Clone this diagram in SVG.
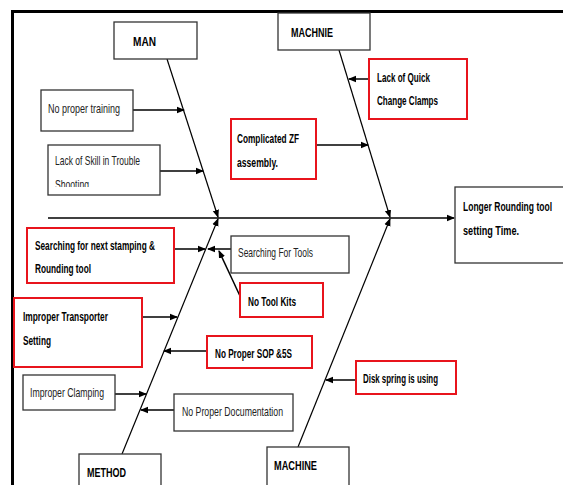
<svg xmlns="http://www.w3.org/2000/svg" width="563" height="485" viewBox="0 0 563 485">
<defs>
<style>
.bx{fill:#fff;stroke:#333;stroke-width:1.3}
.rb{fill:#fff;stroke:#e8141c;stroke-width:2}
.t{font-family:"Liberation Sans",Arial,sans-serif;font-size:13.5px;fill:#222}
.b{font-weight:bold;fill:#000}
.ln{stroke:#000;stroke-width:1.2;fill:none}
.ar{stroke:#000;stroke-width:1.5;fill:none;marker-end:url(#ah)}
</style>
<marker id="ah" markerUnits="userSpaceOnUse" markerWidth="8" markerHeight="8" viewBox="0 0 8 8" refX="7" refY="4" orient="auto">
<path d="M0,0.8 L8,4 L0,7.2 z" fill="#000"/>
</marker>
<clipPath id="skill"><rect x="48" y="145" width="112" height="42"/></clipPath>
</defs>
<rect x="0" y="0" width="563" height="485" fill="#fff"/>
<path d="M12.5,490 L12.5,11.5 L570,11.5" fill="none" stroke="#000" stroke-width="3"/>

<g id="connectors">
<line class="ar" x1="48" y1="218" x2="454" y2="218" style="stroke-width:1.6"/>
<line class="ln" x1="167" y1="59" x2="218" y2="217" style="marker-end:url(#ah)"/>
<line class="ln" x1="339" y1="50" x2="390" y2="217" style="marker-end:url(#ah)"/>
<line class="ln" x1="122" y1="454" x2="218" y2="219" style="marker-end:url(#ah)"/>
<line class="ln" x1="298" y1="447" x2="390" y2="219" style="marker-end:url(#ah)"/>
<line class="ar" x1="133" y1="110" x2="184" y2="110"/>
<line class="ar" x1="160" y1="171" x2="203" y2="171"/>
<line class="ar" x1="369" y1="79" x2="349" y2="79"/>
<line class="ar" x1="316" y1="145" x2="368" y2="145"/>
<line class="ar" x1="174" y1="249" x2="205" y2="249"/>
<line class="ar" x1="231" y1="249" x2="208" y2="249"/>
<line class="ar" x1="240" y1="296" x2="219" y2="251"/>
<line class="ar" x1="142" y1="317" x2="177" y2="317"/>
<line class="ar" x1="207" y1="351" x2="164" y2="351"/>
<line class="ar" x1="115" y1="394" x2="146" y2="394"/>
<line class="ar" x1="174" y1="410" x2="141" y2="410"/>
<line class="ar" x1="356" y1="380" x2="326" y2="380"/>
</g>

<g id="man"><rect class="bx" x="114" y="22" width="83" height="37"/><text class="t b" x="133" y="46" textLength="23" lengthAdjust="spacingAndGlyphs">MAN</text></g>
<g id="machnie"><rect class="bx" x="278" y="13" width="92" height="37"/><text class="t b" x="291" y="37" textLength="42" lengthAdjust="spacingAndGlyphs">MACHNIE</text></g>
<g id="quick-clamps"><rect class="rb" x="369" y="59" width="98" height="60"/><text class="t b" x="377" y="82" textLength="53" lengthAdjust="spacingAndGlyphs">Lack of Quick</text><text class="t b" x="377" y="105" textLength="61" lengthAdjust="spacingAndGlyphs">Change Clamps</text></g>
<g id="complicated-zf"><rect class="rb" x="231" y="119" width="85" height="60"/><text class="t b" x="237" y="143" textLength="62" lengthAdjust="spacingAndGlyphs">Complicated ZF</text><text class="t b" x="237" y="167" textLength="41" lengthAdjust="spacingAndGlyphs">assembly.</text></g>
<g id="training"><rect class="bx" x="41" y="90" width="92" height="41"/><text class="t" x="48" y="113" textLength="72" lengthAdjust="spacingAndGlyphs">No proper training</text></g>
<g id="skill"><rect class="bx" x="48" y="145" width="112" height="50"/><g clip-path="url(#skill)"><text class="t" x="55" y="165" textLength="85" lengthAdjust="spacingAndGlyphs">Lack of Skill in Trouble</text><text class="t" x="55" y="189" textLength="34" lengthAdjust="spacingAndGlyphs">Shooting</text></g></g>
<g id="effect"><rect class="bx" x="455" y="187" width="120" height="76"/><text class="t b" x="463" y="211" textLength="89" lengthAdjust="spacingAndGlyphs">Longer Rounding tool</text><text class="t b" x="463" y="235" textLength="56" lengthAdjust="spacingAndGlyphs">setting Time.</text></g>
<g id="searching-stamping"><rect class="rb" x="27" y="228" width="147" height="55"/><text class="t b" x="35" y="250" textLength="120" lengthAdjust="spacingAndGlyphs">Searching for next stamping &amp;</text><text class="t b" x="35" y="273" textLength="56" lengthAdjust="spacingAndGlyphs">Rounding tool</text></g>
<g id="searching-tools"><rect class="bx" x="231" y="236" width="118" height="37"/><text class="t" x="238" y="257" textLength="75" lengthAdjust="spacingAndGlyphs">Searching For Tools</text></g>
<g id="tool-kits"><rect class="rb" x="240" y="283" width="83" height="34"/><text class="t b" x="248" y="306" textLength="48" lengthAdjust="spacingAndGlyphs">No Tool Kits</text></g>
<g id="transporter"><rect class="rb" x="14" y="298" width="128" height="69"/><text class="t b" x="23" y="321" textLength="85" lengthAdjust="spacingAndGlyphs">Improper Transporter</text><text class="t b" x="23" y="345" textLength="28" lengthAdjust="spacingAndGlyphs">Setting</text></g>
<g id="sop"><rect class="rb" x="207" y="336" width="105" height="32"/><text class="t b" x="215" y="358" textLength="77" lengthAdjust="spacingAndGlyphs">No Proper SOP &amp;5S</text></g>
<g id="clamping"><rect class="bx" x="23" y="375" width="92" height="35"/><text class="t" x="30" y="397" textLength="74" lengthAdjust="spacingAndGlyphs">Improper Clamping</text></g>
<g id="documentation"><rect class="bx" x="174" y="394" width="119" height="37"/><text class="t" x="182" y="416" textLength="101" lengthAdjust="spacingAndGlyphs">No Proper Documentation</text></g>
<g id="disk-spring"><rect class="rb" x="356" y="361" width="100" height="33"/><text class="t b" x="363" y="383" textLength="75" lengthAdjust="spacingAndGlyphs">Disk spring is using</text></g>
<g id="method"><rect class="bx" x="79" y="454" width="82" height="40"/><text class="t b" x="87" y="477" textLength="39" lengthAdjust="spacingAndGlyphs">METHOD</text></g>
<g id="machine"><rect class="bx" x="267" y="447" width="82" height="45"/><text class="t b" x="274" y="470" textLength="43" lengthAdjust="spacingAndGlyphs">MACHINE</text></g>
</svg>
